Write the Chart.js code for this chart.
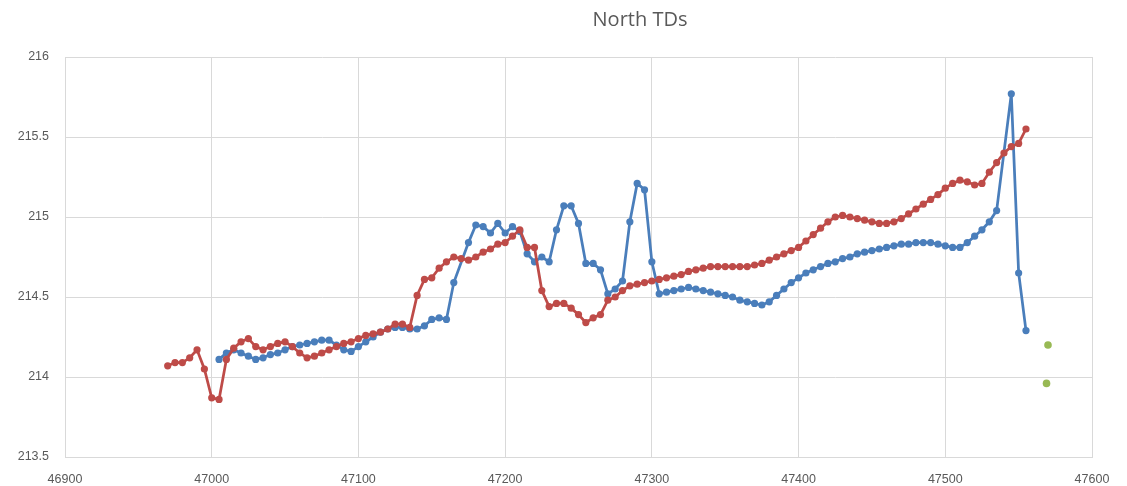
<!DOCTYPE html>
<html>
<head>
<meta charset="utf-8">
<script src="https://cdn.jsdelivr.net/npm/chart.js@4.4.1/dist/chart.umd.min.js"></script>
<style>
  body { margin: 0; background: #ffffff; }
  #wrap { width: 1127px; height: 486px; }
</style>
</head>
<body>
<div id="wrap"><canvas id="mainChart" width="1127" height="486"></canvas></div>
<script>
// title and axis ticks
var chartTitle = 'North TDs';
var xTicks = [46900, 47000, 47100, 47200, 47300, 47400, 47500, 47600];
var yTicks = [213.5, 214, 214.5, 215, 215.5, 216];

// red series
var redX = [
  46970, 46975, 46980, 46985, 46990, 46995, 47000, 47005, 47010, 47015,
  47020, 47025, 47030, 47035, 47040, 47045, 47050, 47055, 47060, 47065,
  47070, 47075, 47080, 47085, 47090, 47095, 47100, 47105, 47110, 47115,
  47120, 47125, 47130, 47135, 47140, 47145, 47150, 47155, 47160, 47165,
  47170, 47175, 47180, 47185, 47190, 47195, 47200, 47205, 47210, 47215,
  47220, 47225, 47230, 47235, 47240, 47245, 47250, 47255, 47260, 47265,
  47270, 47275, 47280, 47285, 47290, 47295, 47300, 47305, 47310, 47315,
  47320, 47325, 47330, 47335, 47340, 47345, 47350, 47355, 47360, 47365,
  47370, 47375, 47380, 47385, 47390, 47395, 47400, 47405, 47410, 47415,
  47420, 47425, 47430, 47435, 47440, 47445, 47450, 47455, 47460, 47465,
  47470, 47475, 47480, 47485, 47490, 47495, 47500, 47505, 47510, 47515,
  47520, 47525, 47530, 47535, 47540, 47545, 47550, 47555
];
var redY = [
  214.07, 214.09, 214.09, 214.12, 214.17, 214.05, 213.87, 213.86, 214.11, 214.18,
  214.22, 214.24, 214.19, 214.17, 214.19, 214.21, 214.22, 214.19, 214.15, 214.12,
  214.13, 214.15, 214.17, 214.19, 214.21, 214.22, 214.24, 214.26, 214.27, 214.28,
  214.30, 214.33, 214.33, 214.31, 214.51, 214.61, 214.62, 214.68, 214.72, 214.75,
  214.74, 214.73, 214.75, 214.78, 214.80, 214.83, 214.84, 214.88, 214.92, 214.81,
  214.81, 214.54, 214.44, 214.46, 214.46, 214.43, 214.39, 214.34, 214.37, 214.39,
  214.48, 214.50, 214.54, 214.57, 214.58, 214.59, 214.60, 214.61, 214.62, 214.63,
  214.64, 214.66, 214.67, 214.68, 214.69, 214.69, 214.69, 214.69, 214.69, 214.69,
  214.70, 214.71, 214.73, 214.75, 214.77, 214.79, 214.81, 214.85, 214.89, 214.93,
  214.97, 215.00, 215.01, 215.00, 214.99, 214.98, 214.97, 214.96, 214.96, 214.97,
  214.99, 215.02, 215.05, 215.08, 215.11, 215.14, 215.18, 215.21, 215.23, 215.22,
  215.20, 215.21, 215.28, 215.34, 215.40, 215.44, 215.46, 215.55
];

// blue series
var blueX = [
  47005, 47010, 47015, 47020, 47025, 47030, 47035, 47040, 47045, 47050,
  47055, 47060, 47065, 47070, 47075, 47080, 47085, 47090, 47095, 47100,
  47105, 47110, 47115, 47120, 47125, 47130, 47135, 47140, 47145, 47150,
  47155, 47160, 47165, 47175, 47180, 47185, 47190, 47195, 47200, 47205,
  47210, 47215, 47220, 47225, 47230, 47235, 47240, 47245, 47250, 47255,
  47260, 47265, 47270, 47275, 47280, 47285, 47290, 47295, 47300, 47305,
  47310, 47315, 47320, 47325, 47330, 47335, 47340, 47345, 47350, 47355,
  47360, 47365, 47370, 47375, 47380, 47385, 47390, 47395, 47400, 47405,
  47410, 47415, 47420, 47425, 47430, 47435, 47440, 47445, 47450, 47455,
  47460, 47465, 47470, 47475, 47480, 47485, 47490, 47495, 47500, 47505,
  47510, 47515, 47520, 47525, 47530, 47535, 47545, 47550, 47555
];
var blueY = [
  214.11, 214.15, 214.17, 214.15, 214.13, 214.11, 214.12, 214.14, 214.15, 214.17,
  214.19, 214.20, 214.21, 214.22, 214.23, 214.23, 214.20, 214.17, 214.16, 214.19,
  214.22, 214.25, 214.28, 214.30, 214.31, 214.31, 214.30, 214.30, 214.32, 214.36,
  214.37, 214.36, 214.59, 214.84, 214.95, 214.94, 214.90, 214.96, 214.90, 214.94,
  214.91, 214.77, 214.72, 214.75, 214.72, 214.92, 215.07, 215.07, 214.96, 214.71,
  214.71, 214.67, 214.52, 214.55, 214.60, 214.97, 215.21, 215.17, 214.72, 214.52,
  214.53, 214.54, 214.55, 214.56, 214.55, 214.54, 214.53, 214.52, 214.51, 214.50,
  214.48, 214.47, 214.46, 214.45, 214.47, 214.51, 214.55, 214.59, 214.62, 214.65,
  214.67, 214.69, 214.71, 214.72, 214.74, 214.75, 214.77, 214.78, 214.79, 214.80,
  214.81, 214.82, 214.83, 214.83, 214.84, 214.84, 214.84, 214.83, 214.82, 214.81,
  214.81, 214.84, 214.88, 214.92, 214.97, 215.04, 215.77, 214.65, 214.29
];

// green points
var greenX = [47570, 47569];
var greenY = [214.20, 213.96];

function toPoints(xs, ys) {
  var pts = [];
  for (var i = 0; i < xs.length; i++) pts.push({ x: xs[i], y: ys[i] });
  return pts;
}

var gridColor = '#d9d9d9';
var textColor = '#595959';
var tickFont = { family: 'Liberation Sans', size: 12.5 };

// title drawn at its own spot (it sits right of centre in the original)
var titlePlugin = {
  id: 'ownTitle',
  afterDraw: function(chart) {
    var c = chart.ctx;
    c.save();
    c.fillStyle = textColor;
    c.font = '20px "Open Sans"';
    c.textAlign = 'center';
    c.textBaseline = 'middle';
    c.fillText(chartTitle, 640, 20);
    c.restore();
  }
};

var ctx = document.getElementById('mainChart').getContext('2d');
var chart = new Chart(ctx, {
    type: 'scatter',
    data: {
        datasets: [{
            label: 'Blue',
            data: toPoints(blueX, blueY),
            showLine: true,
            borderColor: '#4A7EBB',
            backgroundColor: '#4A7EBB',
            borderWidth: 2.75,
            pointRadius: 3.6,
            pointBorderWidth: 0,
            order: 2
        }, {
            label: 'Red',
            data: toPoints(redX, redY),
            showLine: true,
            borderColor: '#BE4B48',
            backgroundColor: '#BE4B48',
            borderWidth: 2.75,
            pointRadius: 3.6,
            pointBorderWidth: 0,
            order: 1
        }, {
            label: 'Green',
            data: toPoints(greenX, greenY),
            showLine: false,
            borderColor: '#98B954',
            backgroundColor: '#98B954',
            pointRadius: 3.8,
            pointBorderWidth: 0,
            order: 0
        }]
    },
    options: {
        responsive: false,
        animation: false,
        layout: { padding: { top: 57, right: 35, left: 0, bottom: 0 } },
        plugins: {
            legend: { display: false },
            title: { display: false },
            tooltip: { enabled: false }
        },
        scales: {
            x: {
                type: 'linear',
                min: xTicks[0],
                max: xTicks[xTicks.length - 1],
                afterBuildTicks: function(s) { s.ticks = xTicks.map(function(v) { return { value: v }; }); },
                afterFit: function(s) { s.height = 29; },
                grid: { color: gridColor, drawTicks: false },
                border: { color: gridColor },
                ticks: {
                    color: textColor, font: tickFont, padding: 15, maxRotation: 0,
                    callback: function(v) { return String(v); }
                }
            },
            y: {
                min: yTicks[0],
                max: yTicks[yTicks.length - 1],
                afterBuildTicks: function(s) { s.ticks = yTicks.map(function(v) { return { value: v }; }); },
                afterFit: function(s) { s.width = 65; },
                grid: { color: gridColor, drawTicks: false },
                border: { color: gridColor },
                ticks: {
                    color: textColor, font: tickFont, padding: 16,
                    callback: function(v) { return String(v); }
                }
            }
        }
    },
    plugins: [titlePlugin]
});
</script>
</body>
</html>
